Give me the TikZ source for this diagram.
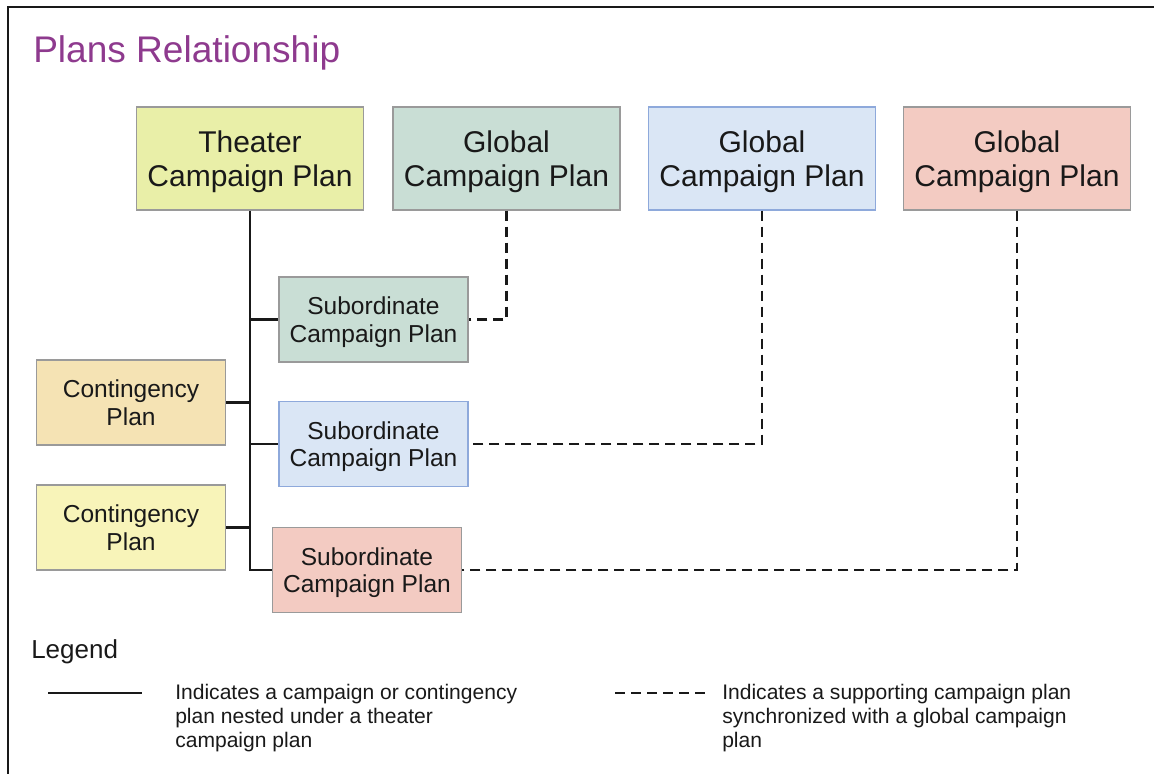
\documentclass[tikz,border=0pt]{standalone}
\usepackage{fontspec}
\setmainfont{Liberation Sans}
\usepackage{tikz}

\definecolor{titlepurple}{RGB}{142,58,142}
\definecolor{boxgray}{RGB}{154,154,154}
\definecolor{theaterfill}{RGB}{233,239,168}
\definecolor{greenfill}{RGB}{201,222,213}
\definecolor{bluefill}{RGB}{218,230,245}
\definecolor{blueline}{RGB}{142,169,219}
\definecolor{pinkfill}{RGB}{243,203,194}
\definecolor{cont1fill}{RGB}{245,227,180}
\definecolor{cont2fill}{RGB}{248,244,185}

\begin{document}
\begin{tikzpicture}[x=0.75pt, y=-0.75pt,
    every node/.append style={inner sep=0pt, align=center, text=black!90},
    plan/.style={draw=boxgray, line width=1.2pt, rectangle, text depth=0pt},
    bigplan/.style={plan, minimum width=170pt, minimum height=77pt, font=\fontsize{22.5}{25}\selectfont},
    smallplan/.style={plan, minimum width=142pt, minimum height=64pt, font=\fontsize{18.4}{20.5}\selectfont},
    nest/.style={line width=2.1pt, black!90},
    sync/.style={line width=2.1pt, black!90, dash pattern=on 7.5pt off 4.5pt},
    legendtext/.style={anchor=north west, align=left, font=\fontsize{15.8}{18}\selectfont}]
        \useasboundingbox (0,0) rectangle (1154,774);
        \draw [line width=1.9pt, black!90] (8,774) -- (8,7) -- (1154,7);

        \node [anchor=base west, text=titlepurple, font=\fontsize{27.8}{30}\selectfont] (title) at (33,63) {Plans Relationship};

        \node [bigplan, fill=theaterfill] (TCP) at (250,158.5) {Theater\\Campaign Plan};
        \node [bigplan, fill=greenfill] (G1) at (506.5,158.5) {Global\\Campaign Plan};
        \node [bigplan, fill=bluefill, draw=blueline] (G2) at (762,158.5) {Global\\Campaign Plan};
        \node [bigplan, fill=pinkfill] (G3) at (1017,158.5) {Global\\Campaign Plan};

        \node [smallplan, fill=greenfill] (S1) at (373.5,319.5) {Subordinate\\Campaign Plan};
        \node [smallplan, fill=bluefill, draw=blueline] (S2) at (373.5,444) {Subordinate\\Campaign Plan};
        \node [smallplan, fill=pinkfill] (S3) at (367,570) {Subordinate\\Campaign Plan};

        \node [smallplan, fill=cont1fill] (C1) at (131,402.5) {Contingency\\Plan};
        \node [smallplan, fill=cont2fill] (C2) at (131,527.5) {Contingency\\Plan};

        \draw [nest] (TCP.south) -- (TCP.south |- S3.west) -- (S3.west);
        \draw [nest] (TCP.south |- S1.west) -- (S1.west);
        \draw [nest] (TCP.south |- S2.west) -- (S2.west);
        \draw [nest] (C1.east) -- (C1.east -| TCP.south);
        \draw [nest] (C2.east) -- (C2.east -| TCP.south);

        \draw [sync] (G1.south) |- (S1.east);
        \draw [sync] (G2.south) |- (S2.east);
        \draw [sync] (G3.south) |- (S3.east);

        % legend
        \node [anchor=base west, font=\fontsize{19.5}{22}\selectfont] (legend) at (31,658) {Legend};
        \coordinate (solidA) at (48,693);
        \coordinate (solidB) at (142,693);
        \draw [nest] (solidA) -- (solidB);
        \node [legendtext] (solidtext) at (175,684) {Indicates a campaign or contingency\\plan nested under a theater\\campaign plan};
        \coordinate (dashA) at (615,693);
        \coordinate (dashB) at (710,693);
        \draw [sync] (dashA) -- (dashB);
        \node [legendtext] (dashtext) at (722,684) {Indicates a supporting campaign plan\\synchronized with a global campaign\\plan};
    \end{tikzpicture}
\end{document}
